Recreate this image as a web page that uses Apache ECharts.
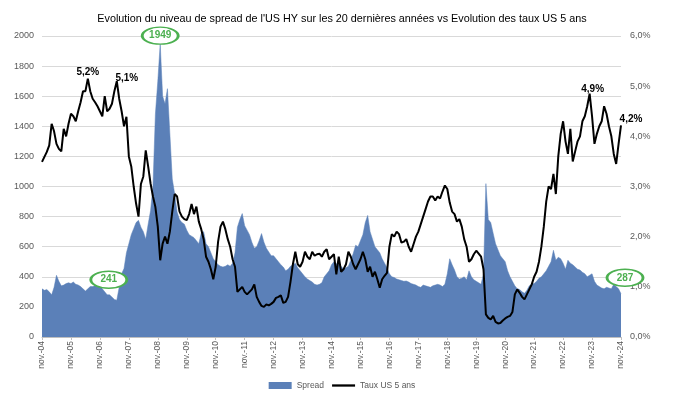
<!DOCTYPE html>
<html>
<head>
<meta charset="utf-8">
<script src="https://cdn.jsdelivr.net/npm/echarts@6/dist/echarts.min.js"></script>
<style>
  html, body { margin: 0; padding: 0; background: #fff; }
  #chart { width: 684px; height: 398px; }
</style>
</head>
<body>
<div id="chart"></div>
<script>
// mois de nov.-04 à nov.-24 (un point par mois)
var moisNoms = ['nov.', 'déc.', 'janv.', 'févr.', 'mars', 'avr.', 'mai', 'juin', 'juil.', 'août', 'sept.', 'oct.'];
var anneeDebut = 2004;

// spread US HY (pb)
var spread = [
  320, 310, 315, 300, 280, 330, 410, 370, 340, 345, 355, 360,
  355, 365, 350, 345, 335, 320, 305, 320, 335, 335, 340, 335,
  345, 320, 300, 280, 280, 265, 250, 245, 330, 420, 455, 560,
  620, 680, 720, 760, 775, 730, 700, 650, 750, 840, 1000, 1480,
  1700, 1949, 1600, 1550, 1650, 1350, 1050, 950, 830, 780, 760, 750,
  710, 680, 670, 660, 640, 620, 690, 700, 620, 600, 560, 520,
  500, 480, 470, 465, 470, 480, 470, 490, 560, 730, 780, 820,
  740, 710, 680, 630, 590, 600, 640, 687, 630, 590, 565, 540,
  540, 520, 500, 480, 465, 440, 450, 470, 480, 490, 460, 440,
  420, 400, 385, 375, 365, 350, 345, 350, 360, 400, 420, 440,
  480, 500, 487, 490, 470, 450, 460, 470, 510, 554, 610, 600,
  640, 680, 760, 808, 700, 650, 600, 580, 560, 520, 490, 460,
  420, 400, 395, 385, 380, 375, 370, 372, 365, 355, 350, 345,
  335, 330, 345, 340, 335, 330, 340, 345, 350, 345, 335, 350,
  420, 520, 480, 445, 400, 385, 390, 400, 380, 440, 400, 380,
  370, 360, 350, 420, 1019, 780, 760, 690, 620, 580, 540, 520,
  500, 440, 400, 370, 340, 320, 315, 300, 290, 310, 340, 354,
  355, 370, 390, 400, 420, 440, 470, 500, 576, 510, 530, 520,
  490, 450, 510, 490, 480, 465, 450, 445, 430, 420, 400, 410,
  420, 370, 345, 335, 325, 320, 330, 325, 320, 350, 335, 320,
  287
];

// taux US 5 ans (%)
var taux = [
  3.49, 3.59, 3.69, 3.82, 4.25, 4.10, 3.85, 3.75, 3.70, 4.15, 4.00, 4.25,
  4.45, 4.40, 4.30, 4.50, 4.68, 4.90, 4.90, 5.15, 4.90, 4.75, 4.68, 4.60,
  4.50, 4.40, 4.80, 4.50, 4.55, 4.65, 4.90, 5.10, 4.75, 4.50, 4.20, 4.39,
  3.60, 3.40, 3.00, 2.66, 2.40, 3.05, 3.20, 3.72, 3.40, 3.06, 2.80, 2.59,
  2.20, 1.53, 1.86, 2.00, 1.86, 2.10, 2.50, 2.85, 2.80, 2.50, 2.40, 2.35,
  2.33, 2.45, 2.65, 2.45, 2.60, 2.30, 2.15, 1.95, 1.60, 1.50, 1.35, 1.15,
  1.40, 1.90, 2.20, 2.30, 2.15, 1.95, 1.80, 1.55, 1.40, 0.90, 0.95, 1.00,
  0.90, 0.85, 0.90, 0.95, 1.05, 0.80, 0.70, 0.62, 0.60, 0.65, 0.63, 0.66,
  0.70, 0.78, 0.80, 0.83, 0.68, 0.70, 0.80, 1.10, 1.45, 1.70, 1.45, 1.40,
  1.50, 1.70, 1.60, 1.55, 1.70, 1.62, 1.65, 1.66, 1.60, 1.70, 1.75, 1.55,
  1.60, 1.65, 1.25, 1.60, 1.30, 1.35, 1.45, 1.70, 1.60, 1.45, 1.35, 1.45,
  1.55, 1.70, 1.55, 1.30, 1.40, 1.20, 1.30, 1.15, 0.98, 1.15, 1.22, 1.28,
  1.80, 2.05, 2.00, 2.10, 2.05, 1.88, 1.90, 1.95, 1.80, 1.70, 1.85, 2.00,
  2.10, 2.25, 2.40, 2.55, 2.70, 2.80, 2.80, 2.72, 2.80, 2.76, 2.90, 3.02,
  2.95, 2.68, 2.50, 2.45, 2.30, 2.35, 2.20, 1.95, 1.80, 1.50, 1.55, 1.65,
  1.72, 1.66, 1.60, 1.35, 0.45, 0.38, 0.35, 0.42, 0.30, 0.27, 0.28, 0.33,
  0.37, 0.40, 0.42, 0.50, 0.85, 0.95, 0.88, 0.80, 0.75, 0.85, 0.95, 1.05,
  1.20, 1.30, 1.50, 1.80, 2.20, 2.70, 3.00, 2.95, 3.25, 2.85, 3.60, 4.05,
  4.30, 3.90, 3.65, 4.15, 3.50, 3.70, 3.90, 4.00, 4.30, 4.40, 4.60, 4.85,
  4.40, 3.85, 4.05, 4.20, 4.30, 4.60, 4.45, 4.20, 4.00, 3.65, 3.45, 3.85,
  4.22
];

// annotations
var bullesSpread = [[49, 1949], [31, 241], [240, 287]];
var bullesDecalage = [[0, -8], [-8, -21], [4, -16]];
var etiquettesTaux = [[19, '5,2%'], [31, '5,1%'], [227, '4,9%'], [240, '4,2%']];
var etiquettesDecalage = [[0, 0], [10, 4], [3, 2], [10, 0]];

var mois = [];
for (var i = 0; i < spread.length; i++) {
  var an = anneeDebut + Math.floor((i + 10) / 12);
  mois.push(moisNoms[i % 12] + '-' + String(an % 100).padStart(2, '0'));
}

var myChart = echarts.init(document.getElementById('chart'));
var gris = '#595959';
var vert = '#4cb050';
var bleu = '#5b80b8';

var option = {
  animation: false,
  textStyle: { fontFamily: 'Liberation Sans, Arial, sans-serif' },
  title: {
    text: "Evolution du niveau de spread de l'US HY sur les 20 dernières années vs Evolution des taux US 5 ans",
    left: 'center',
    top: 9,
    textStyle: { fontSize: 10.8, fontWeight: 'normal', color: '#000' }
  },
  legend: {
    top: 376,
    left: 'center',
    itemGap: 8,
    itemWidth: 23,
    itemHeight: 7,
    textStyle: { fontSize: 8.5, color: gris },
    data: [
      { name: 'Spread', icon: 'rect' },
      { name: 'Taux US 5 ans', icon: 'path://M0,0 L10,0 L10,1 L0,1 Z' }
    ]
  },
  grid: { left: 42, right: 63, top: 36, bottom: 61 },
  xAxis: {
    type: 'category',
    data: mois,
    boundaryGap: false,
    axisLine: { lineStyle: { color: '#bfbfbf' } },
    axisTick: {
      show: true,
      length: 3,
      interval: function (idx) { return idx % 12 === 0; },
      lineStyle: { color: '#bfbfbf' }
    },
    axisLabel: {
      rotate: 90,
      fontSize: 8.5,
      color: gris,
      margin: 4,
      interval: function (idx) { return idx % 12 === 0; }
    },
    splitLine: { show: false }
  },
  yAxis: [
    {
      type: 'value',
      min: 0,
      max: 2000,
      interval: 200,
      axisLine: { show: false },
      axisTick: { show: false },
      axisLabel: {
        fontSize: 9,
        color: gris,
        margin: 8,
        formatter: function (v) { return String(v); }
      },
      splitLine: { lineStyle: { color: '#d9d9d9' } }
    },
    {
      type: 'value',
      min: 0,
      max: 6,
      interval: 1,
      axisLine: { show: false },
      axisTick: { show: false },
      axisLabel: {
        fontSize: 9,
        color: gris,
        margin: 9,
        formatter: function (v) { return v.toFixed(1).replace('.', ',') + '%'; }
      },
      splitLine: { show: false }
    }
  ],
  series: [
    {
      name: 'Spread',
      type: 'line',
      data: spread,
      yAxisIndex: 0,
      showSymbol: false,
      itemStyle: { color: bleu },
      lineStyle: { color: bleu, width: 0.5 },
      areaStyle: { color: bleu, opacity: 1 },
      z: 2,
      markPoint: {
        symbol: 'circle',
        symbolSize: [36, 17],
        itemStyle: { color: '#fff', borderColor: vert, borderWidth: 2 },
        label: { show: true, position: 'inside', color: vert, fontWeight: 'bold', fontSize: 10 },
        data: bullesSpread.map(function (b, k) {
          return { coord: b, value: b[1], symbolOffset: bullesDecalage[k] };
        })
      }
    },
    {
      name: 'Taux US 5 ans',
      type: 'line',
      data: taux,
      yAxisIndex: 1,
      showSymbol: false,
      itemStyle: { color: '#000' },
      lineStyle: { color: '#000', width: 2 },
      z: 3,
      markPoint: {
        symbol: 'circle',
        symbolSize: 1,
        itemStyle: { color: 'rgba(0,0,0,0)' },
        label: { show: true, position: 'top', distance: 1, color: '#000', fontWeight: 'bold', fontSize: 10 },
        data: etiquettesTaux.map(function (e, k) {
          return {
            coord: [e[0], taux[e[0]]],
            value: e[1],
            label: { offset: etiquettesDecalage[k] }
          };
        })
      }
    }
  ]
};

myChart.setOption(option);
</script>
</body>
</html>
